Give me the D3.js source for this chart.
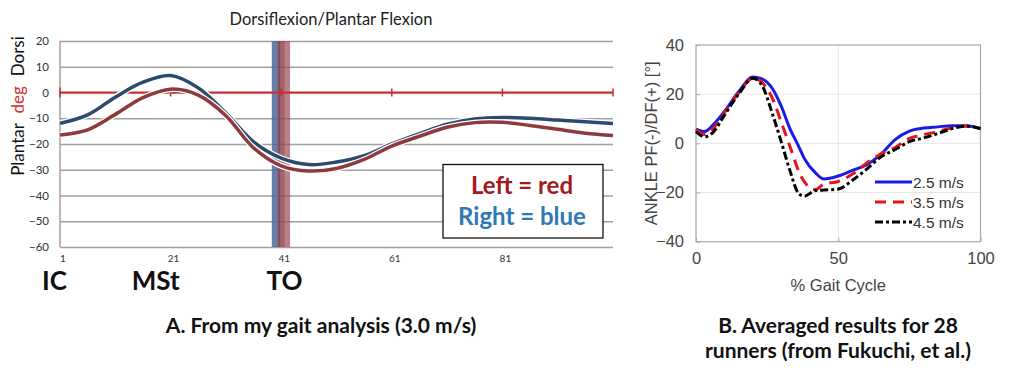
<!DOCTYPE html>
<html>
<head>
<meta charset="utf-8">
<script src="https://cdn.jsdelivr.net/npm/d3@7"></script>
<style>
  body { margin: 0; background: #fff; }
  svg { display: block; }
  .calibri { font-family: Lato, "Open Sans", sans-serif; }
  .arial { font-family: "Liberation Sans", Arial, sans-serif; }
</style>
</head>
<body>
<div id="chart"></div>
<script>
// ---- panel A: my gait analysis (Excel style) ----
const gaitPoints = [1, 6, 11, 16, 21, 26, 31, 36, 41, 46, 51, 56, 61, 66, 71, 76, 81, 86, 91, 96, 101];
const rightFoot = [-12, -8.7, -1.8, 4, 6.6, 1.8, -8, -19.2, -25.5, -28, -27, -24.5, -20, -16, -12.3, -10.3, -9.7, -10, -10.7, -11.4, -12];
const leftFoot  = [-16.5, -14.5, -8.5, -2, 1.3, -1, -9, -21.5, -28.5, -30.5, -29.5, -26, -20.8, -17, -13.5, -11.7, -11.6, -12.8, -14.3, -15.8, -16.7];
const yTicksA = [-60, -50, -40, -30, -20, -10, 0, 10, 20];
const xTicksA = [1, 21, 41, 61, 81];
const redTicksA = [1, 21, 41, 61, 81, 101];
const phaseLabels = ["IC", "MSt", "TO"];
const phaseAt = [0, 18.3, 41.6];
// toe-off bands (gait %)
const toeOffRight = [39.3, 40.8];
const toeOffLeft = [40.4, 42.6];

// ---- panel B: Fukuchi et al. averages ----
const pct = [0, 3, 6, 10, 15, 20, 23, 27, 30, 33, 36, 38, 42, 45, 50, 55, 60, 65, 70, 75, 80, 85, 90, 95, 100];
const speed25 = [5.8, 4.8, 7.5, 13, 21, 27, 26.3, 22, 15, 6, -1, -6, -12, -14.5, -13.3, -11, -8.7, -4.5, 1.5, 5, 6.2, 6.7, 7.2, 7.2, 6];
const speed35 = [5.6, 3.6, 6, 12.5, 20.5, 26.5, 25, 18, 8.5, -1.2, -11, -15.5, -18.8, -16.5, -15.5, -12.5, -8, -4.3, -1.7, 2, 3.5, 4.8, 6.3, 7, 6];
const speed45 = [4.8, 2.7, 4.5, 11.5, 20, 26.5, 24, 11.5, 0.5, -11, -20.3, -21.5, -19.2, -19, -18.6, -15, -10.5, -5.5, -2.5, 0.7, 2.2, 4, 6, 7, 6];
const speedNames = ["2.5 m/s", "3.5 m/s", "4.5 m/s"];
const yTicksB = [-40, -20, 0, 20, 40];
const xTicksB = [0, 50, 100];

const svg = d3.select("#chart").append("svg")
    .attr("width", 1012)
    .attr("height", 377);

// ================= panel A =================
const gA = svg.append("g").attr("class", "calibri");
const xA = d3.scaleLinear().domain([1, 101]).range([60, 613]);
const yA = d3.scaleLinear().domain([-60, 20]).range([247, 41]);

gA.append("text")
    .attr("x", 331).attr("y", 25)
    .attr("text-anchor", "middle")
    .attr("font-size", 16.5)
    .attr("fill", "#222")
    .text("Dorsiflexion/Plantar Flexion");

// gridlines + y labels
const yAxisA = gA.append("g")
    .attr("transform", `translate(${xA(1)},0)`)
    .call(d3.axisLeft(yA).tickValues(yTicksA).tickSize(-(xA(101) - xA(1))).tickPadding(11));
yAxisA.select(".domain").remove();
yAxisA.selectAll(".tick line").attr("stroke", "#a0a0a0").attr("stroke-width", 1.5);
yAxisA.selectAll(".tick text").attr("font-size", 11.5).attr("fill", "#333").attr("font-family", "Lato, sans-serif");

gA.append("line")
    .attr("x1", xA(1)).attr("x2", xA(1))
    .attr("y1", yA(20)).attr("y2", yA(-60))
    .attr("stroke", "#a0a0a0").attr("stroke-width", 1.5);

// x labels
gA.selectAll(".xlab").data(xTicksA).join("text")
    .attr("class", "xlab")
    .attr("x", d => xA(d) + 3)
    .attr("y", 262)
    .attr("text-anchor", "middle")
    .attr("font-size", 10)
    .attr("fill", "#333")
    .text(d => d);

// toe-off bands
gA.append("rect")
    .attr("x", xA(toeOffRight[0])).attr("y", yA(20))
    .attr("width", xA(toeOffRight[1]) - xA(toeOffRight[0]))
    .attr("height", yA(-60) - yA(20))
    .attr("fill", "#4f6796").attr("opacity", 0.85);
gA.append("rect")
    .attr("x", xA(toeOffLeft[0])).attr("y", yA(20))
    .attr("width", xA(toeOffLeft[1]) - xA(toeOffLeft[0]))
    .attr("height", yA(-60) - yA(20))
    .attr("fill", "#a04c55").attr("opacity", 0.7);
gA.append("rect")
    .attr("x", xA(toeOffLeft[0])).attr("y", yA(20))
    .attr("width", (xA(toeOffLeft[1]) - xA(toeOffLeft[0])) * 0.55)
    .attr("height", yA(-60) - yA(20))
    .attr("fill", "#7c3645").attr("opacity", 0.4);

// red zero line with ticks
gA.append("line")
    .attr("x1", xA(1)).attr("x2", xA(101))
    .attr("y1", yA(0)).attr("y2", yA(0))
    .attr("stroke", "#cc2a2a").attr("stroke-width", 2);
gA.selectAll(".rtick").data(redTicksA).join("line")
    .attr("class", "rtick")
    .attr("x1", d => xA(d)).attr("x2", d => xA(d))
    .attr("y1", (d, i) => yA(0) - (i === 0 ? 5 : 4))
    .attr("y2", (d, i) => yA(0) + (i === 0 ? 5 : 4))
    .attr("stroke", "#cc2a2a").attr("stroke-width", 1.5);

const lineA = d3.line()
    .x((d, i) => xA(gaitPoints[i]))
    .y(d => yA(d))
    .curve(d3.curveCatmullRom.alpha(0.5));

[[rightFoot, "#2c4a70"], [leftFoot, "#8e3a3d"]].forEach(([vals, col]) => {
    gA.append("path")
        .attr("d", lineA(vals))
        .attr("fill", "none")
        .attr("stroke", "#fff").attr("stroke-width", 6);
    gA.append("path")
        .attr("d", lineA(vals))
        .attr("fill", "none")
        .attr("stroke", col).attr("stroke-width", 3.5);
});

// legend box
gA.append("rect")
    .attr("x", 443).attr("y", 164.5)
    .attr("width", 160).attr("height", 73.5)
    .attr("fill", "#fff").attr("stroke", "#111").attr("stroke-width", 1.3);
gA.append("text")
    .attr("x", 522).attr("y", 194)
    .attr("text-anchor", "middle")
    .attr("font-size", 24).attr("font-weight", "bold")
    .attr("fill", "#a01a1e")
    .text("Left = red");
gA.append("text")
    .attr("x", 522).attr("y", 225)
    .attr("text-anchor", "middle")
    .attr("font-size", 24).attr("font-weight", "bold")
    .attr("fill", "#2e78b4")
    .text("Right = blue");

// y label
const ylab = gA.append("text")
    .attr("transform", "translate(24,106) rotate(-90)")
    .attr("text-anchor", "middle")
    .attr("font-size", 17);
ylab.append("tspan").attr("fill", "#111").text("Plantar");
ylab.append("tspan").attr("fill", "#d0302a").attr("dx", 10).text("deg");
ylab.append("tspan").attr("fill", "#111").attr("dx", 10).text("Dorsi");

// phase labels
gA.selectAll(".phase").data(phaseLabels).join("text")
    .attr("class", "phase")
    .attr("x", (d, i) => xA(phaseAt[i]))
    .attr("y", 290)
    .attr("text-anchor", "middle")
    .attr("font-size", 26).attr("font-weight", "bold")
    .attr("fill", "#111")
    .text(d => d);

gA.append("text")
    .attr("x", 321).attr("y", 333)
    .attr("text-anchor", "middle")
    .attr("font-size", 21).attr("font-weight", "bold")
    .attr("fill", "#111")
    .text("A. From my gait analysis (3.0 m/s)");

// ================= panel B =================
const gB = svg.append("g").attr("class", "arial");
const xB = d3.scaleLinear().domain([0, 100]).range([696, 980.5]);
const yB = d3.scaleLinear().domain([-40, 40]).range([241.7, 45]);

// grid
gB.selectAll(".gy").data(yTicksB.slice(1, -1)).join("line")
    .attr("x1", xB(0)).attr("x2", xB(100))
    .attr("y1", d => yB(d)).attr("y2", d => yB(d))
    .attr("stroke", "#e6e6e6").attr("stroke-width", 1);
gB.selectAll(".gx").data(xTicksB.slice(1, -1)).join("line")
    .attr("x1", d => xB(d)).attr("x2", d => xB(d))
    .attr("y1", yB(40)).attr("y2", yB(-40))
    .attr("stroke", "#e6e6e6").attr("stroke-width", 1);

gB.append("rect")
    .attr("x", xB(0)).attr("y", yB(40))
    .attr("width", xB(100) - xB(0)).attr("height", yB(-40) - yB(40))
    .attr("fill", "none").attr("stroke", "#a9a9a9").attr("stroke-width", 1.2);

const axLeftB = gB.append("g")
    .attr("transform", `translate(${xB(0)},0)`)
    .call(d3.axisLeft(yB).tickValues(yTicksB).tickSize(4).tickSizeOuter(0).tickPadding(8));
axLeftB.select(".domain").remove();
axLeftB.selectAll(".tick line").attr("x2", 4).attr("stroke", "#a9a9a9");
axLeftB.selectAll(".tick text").attr("font-size", 16.5).attr("fill", "#444")
    .attr("font-family", "'Liberation Sans', Arial, sans-serif");

const axBottomB = gB.append("g")
    .attr("transform", `translate(0,${yB(-40)})`)
    .call(d3.axisBottom(xB).tickValues(xTicksB).tickSize(4).tickSizeOuter(0).tickPadding(7));
axBottomB.select(".domain").remove();
axBottomB.selectAll(".tick line").attr("y2", -4).attr("stroke", "#a9a9a9");
axBottomB.selectAll(".tick text").attr("font-size", 16.5).attr("fill", "#444")
    .attr("font-family", "'Liberation Sans', Arial, sans-serif");

gB.append("text")
    .attr("x", xB(50)).attr("y", 291)
    .attr("text-anchor", "middle")
    .attr("font-size", 16.5).attr("fill", "#444")
    .text("% Gait Cycle");
gB.append("text")
    .attr("transform", `translate(657,${yB(0)}) rotate(-90)`)
    .attr("text-anchor", "middle")
    .attr("font-size", 16.5).attr("fill", "#444")
    .text("ANKLE PF(-)/DF(+) [°]");

const lineB = d3.line()
    .x((d, i) => xB(pct[i]))
    .y(d => yB(d))
    .curve(d3.curveMonotoneX);

const speedStyles = [
    {vals: speed25, color: "#1a1ae6", dash: null},
    {vals: speed35, color: "#e8141c", dash: "11,7"},
    {vals: speed45, color: "#000", dash: "8,3,3,3"}
];

speedStyles.forEach(s => {
    gB.append("path")
        .attr("d", lineB(s.vals))
        .attr("fill", "none")
        .attr("stroke", s.color)
        .attr("stroke-width", 3)
        .attr("stroke-dasharray", s.dash);
});

// legend
const legB = gB.selectAll(".legB").data(speedStyles).join("g")
    .attr("class", "legB")
    .attr("transform", (d, i) => `translate(875,${182 + i * 20})`);
legB.append("rect")
    .attr("x", -3).attr("y", -9).attr("width", 95).attr("height", 19)
    .attr("fill", "#fff").attr("opacity", 0.85);
legB.append("line")
    .attr("x1", 0).attr("x2", 37)
    .attr("stroke", d => d.color).attr("stroke-width", 3)
    .attr("stroke-dasharray", d => d.dash);
legB.append("text")
    .attr("x", 38).attr("y", 5.5)
    .attr("font-size", 15.5).attr("fill", "#333")
    .text((d, i) => speedNames[i]);

gB.append("text")
    .attr("class", "calibri")
    .attr("x", 838).attr("y", 333)
    .attr("text-anchor", "middle")
    .attr("font-size", 21).attr("font-weight", "bold")
    .attr("fill", "#111")
    .text("B. Averaged results for 28");
gB.append("text")
    .attr("class", "calibri")
    .attr("x", 838).attr("y", 358)
    .attr("text-anchor", "middle")
    .attr("font-size", 21).attr("font-weight", "bold")
    .attr("fill", "#111")
    .text("runners (from Fukuchi, et al.)");
</script>
</body>
</html>
